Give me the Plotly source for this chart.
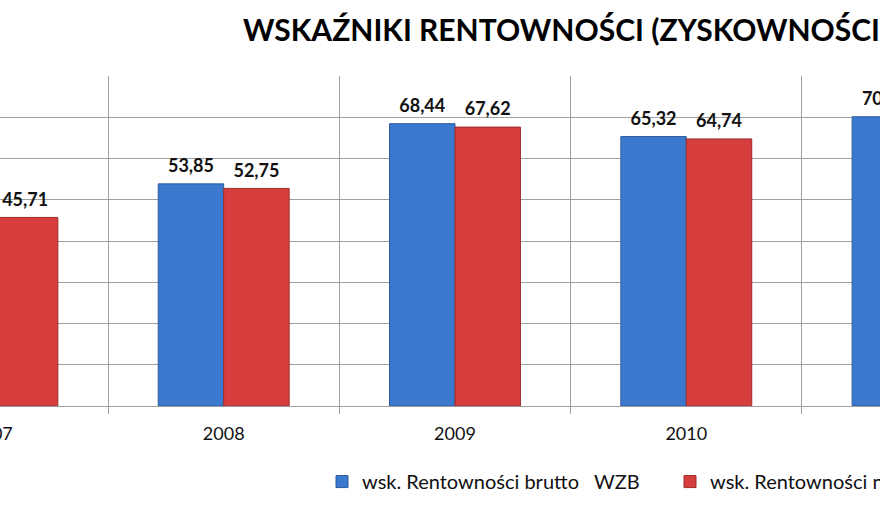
import plotly.graph_objects as go

years = ["2007", "2008", "2009", "2010", "2011"]
brutto = [46.52, 53.85, 68.44, 65.32, 70.12]
netto = [45.71, 52.75, 67.62, 64.74, 69.48]

name_brutto = "wsk. Rentowności brutto\u00a0\u00a0\u00a0WZB"
name_netto = "wsk. Rentowności netto\u00a0\u00a0\u00a0WZB"
title_txt = "WSKAŹNIKI RENTOWNOŚCI (ZYSKOWNOŚCI)"

font = "Lato"
grid = "#a0a0a0"
xrange = [0.0329, 3.8375]

# small second line lifts the value labels a little above the bars
label_tpl = "<span style='font-size:18px'><b>%{y:.2f}</b></span><br>\u00a0"

fig = go.Figure()
fig.add_trace(go.Bar(x=years, y=brutto, name=name_brutto,
                     marker=dict(color="#3b79cf", line=dict(color="#2c5a9c", width=1)),
                     texttemplate=label_tpl, textposition="outside", cliponaxis=True,
                     constraintext="none",
                     textfont=dict(family=font, size=6, color="#111111")))
fig.add_trace(go.Bar(x=years, y=netto, name=name_netto,
                     marker=dict(color="#d63e3e", line=dict(color="#9e2c2c", width=1)),
                     texttemplate=label_tpl, textposition="outside", cliponaxis=True,
                     constraintext="none",
                     textfont=dict(family=font, size=6, color="#111111")))

# first category label sits partly outside the visible range
fig.add_annotation(text=years[0], xref="paper", yref="paper",
                   x=(0 - xrange[0]) / (xrange[1] - xrange[0]), y=0,
                   xanchor="center", yanchor="middle", yshift=-27, showarrow=False,
                   font=dict(family=font, size=18, color="#111111"))

fig.update_layout(
    width=880, height=508,
    margin=dict(l=0, r=0, t=76, b=102, autoexpand=False),
    paper_bgcolor="white", plot_bgcolor="white",
    separators=", ",
    barmode="group", bargap=0.434, bargroupgap=0,
    font=dict(family=font, size=16, color="#111111"),
    title=dict(text="<b>" + title_txt + "</b>", x=243 / 880, xanchor="left",
               y=1 - 30 / 508, yanchor="middle",
               font=dict(family=font, size=30, color="#000000")),
    legend=dict(orientation="h", x=322 / 880, xanchor="left", y=-0.229, yanchor="middle",
                font=dict(family=font, size=20, color="#111111"),
                entrywidth=303, entrywidthmode="pixels"),
    showlegend=True,
)
fig.update_xaxes(type="category", range=xrange, tickson="boundaries",
                 showgrid=True, gridcolor=grid, gridwidth=1,
                 showline=True, linecolor=grid, linewidth=1,
                 ticks="outside", ticklen=7, tickcolor=grid,
                 ticklabelstandoff=11, tickfont=dict(family=font, size=18, color="#111111"))
fig.update_yaxes(range=[0, 80], dtick=10, showgrid=True, gridcolor=grid, gridwidth=1,
                 zeroline=False, showticklabels=False)

fig.write_html("out.html", config={"displayModeBar": False},
               post_script="document.body.style.margin='0';")
